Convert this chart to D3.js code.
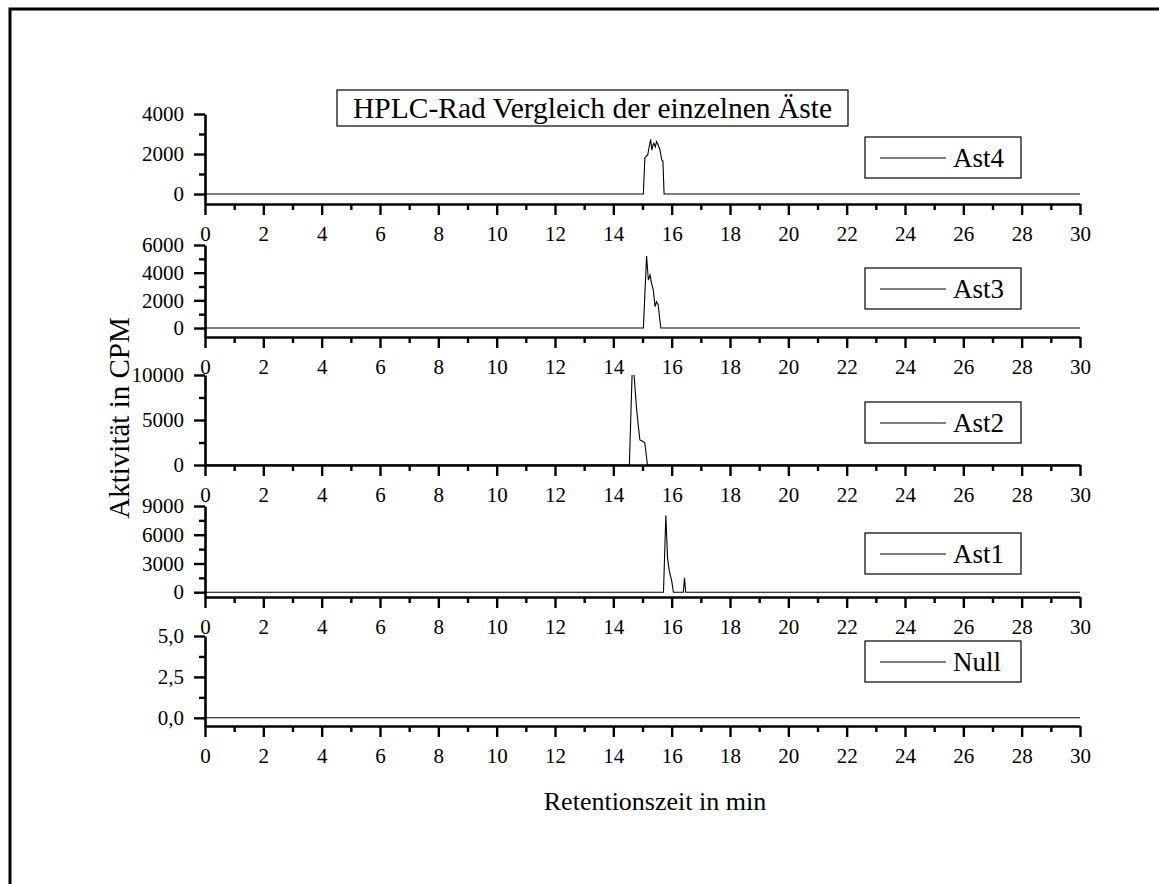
<!DOCTYPE html>
<html>
<head>
<meta charset="utf-8">
<script src="https://cdn.jsdelivr.net/npm/d3@7"></script>
<style>
  body { margin: 0; background: #fff; }
  svg { display: block; }
  text { font-family: "Liberation Serif", "Times New Roman", serif; fill: #000; }
</style>
</head>
<body>
<svg></svg>
<script>
// data
const chartTitle = "HPLC-Rad Vergleich der einzelnen Äste";
const xLabel = "Retentionszeit in min";
const yLabel = "Aktivität in CPM";
const seriesNames = ["Ast4", "Ast3", "Ast2", "Ast1", "Null"];
const xTickValues = d3.range(0, 31, 2);

// y axis per panel
const yTickValues = [[0, 2000, 4000], [0, 2000, 4000, 6000], [0, 5000, 10000], [0, 3000, 6000, 9000], [0, 2.5, 5]];
const yMinorValues = [[1000, 3000], [1000, 3000, 5000], [2500, 7500], [1500, 4500, 7500], [1.25, 3.75]];
const yDomains = [[-500, 4000], [-650, 6000], [0, 10000], [-500, 9000], [-0.5, 5]];

// retention time (min) and activity (CPM) per series
const ast4Time = [0, 15.03, 15.08, 15.14, 15.18, 15.22, 15.28, 15.32, 15.36, 15.39, 15.44, 15.48, 15.54, 15.6, 15.66, 15.7, 15.74, 30];
const ast4Value = [0, 0, 1800, 1900, 1950, 2300, 2730, 2200, 2450, 2530, 2350, 2620, 2450, 2200, 1700, 1650, 0, 0];
const ast3Time = [0, 15.03, 15.14, 15.2, 15.26, 15.31, 15.37, 15.43, 15.48, 15.54, 15.6, 15.63, 30];
const ast3Value = [0, 0, 5200, 3470, 3830, 3230, 2750, 1540, 1900, 1660, 455, 0, 0];
const ast2Time = [0, 14.55, 14.67, 14.71, 14.8, 14.86, 14.91, 14.97, 15.03, 15.08, 15.17, 30];
const ast2Value = [0, 0, 13000, 10000, 6110, 4255, 2780, 2700, 2590, 2440, 0, 0];
const ast1Time = [0, 15.72, 15.8, 15.86, 15.92, 16.0, 16.06, 16.4, 16.44, 16.48, 30];
const ast1Value = [0, 0, 8000, 3500, 2200, 1200, 0, 0, 1500, 0, 0];
const nullTime = [0, 30];
const nullValue = [0, 0];

const seriesTimes = [ast4Time, ast3Time, ast2Time, ast1Time, nullTime];
const seriesValues = [ast4Value, ast3Value, ast2Value, ast1Value, nullValue];

// layout
const W = 1159, H = 884;
const plotLeft = 205, plotRight = 1080;
const panelTop = [114, 245, 375, 506, 636];     // y of top tick
const panelAxis = [204, 337, 465, 597, 726];    // y of x axis line
const legendTop = [137, 268, 402, 533, 641];

const svg = d3.select("svg").attr("width", W).attr("height", H);

// outer frame
svg.append("rect")
    .attr("x", 10).attr("y", 9)
    .attr("width", W + 20).attr("height", H + 20)
    .attr("fill", "none").attr("stroke", "#000").attr("stroke-width", 3);

const x = d3.scaleLinear().domain([0, 30]).range([plotLeft, plotRight]);
const commaFormat = d3.formatLocale({ decimal: ",", thousands: "", grouping: [3], currency: ["", ""] }).format(".1f");

seriesNames.forEach((name, i) => {
    const y = d3.scaleLinear().domain(yDomains[i]).range([panelAxis[i], panelTop[i]]);
    const g = svg.append("g");

    // clip the data to the axis box
    svg.append("clipPath").attr("id", "clip" + i)
        .append("rect")
        .attr("x", plotLeft).attr("y", panelTop[i])
        .attr("width", plotRight - plotLeft).attr("height", panelAxis[i] - panelTop[i]);

    const pts = seriesTimes[i].map((t, k) => [t, seriesValues[i][k]]);
    g.append("path")
        .datum(pts)
        .attr("clip-path", "url(#clip" + i + ")")
        .attr("fill", "none")
        .attr("stroke", "#000")
        .attr("stroke-width", 1.1)
        .attr("d", d3.line().x(d => x(d[0])).y(d => y(d[1])));

    // x axis: major + minor
    const xAxisG = g.append("g").attr("transform", `translate(0,${panelAxis[i]})`);
    xAxisG.call(d3.axisBottom(x).tickValues(xTickValues).tickSize(11).tickSizeOuter(0).tickPadding(11).tickFormat(d3.format("d")));
    xAxisG.append("g").call(d3.axisBottom(x).tickValues(d3.range(1, 30, 2)).tickSize(6).tickSizeOuter(0).tickFormat(""))
        .select(".domain").remove();

    // y axis: major + minor
    const fmt = i === 4 ? commaFormat : d3.format("d");
    const yAxisG = g.append("g").attr("transform", `translate(${plotLeft},0)`);
    yAxisG.call(d3.axisLeft(y).tickValues(yTickValues[i]).tickSize(11).tickSizeOuter(0).tickPadding(10).tickFormat(fmt));
    yAxisG.append("g").call(d3.axisLeft(y).tickValues(yMinorValues[i]).tickSize(6).tickSizeOuter(0).tickFormat(""))
        .select(".domain").remove();

    g.selectAll(".domain").attr("stroke-width", 2.6).attr("stroke", "#000");
    g.selectAll(".tick line").attr("stroke-width", 2.4).attr("stroke", "#000");
    g.selectAll(".tick text").style("font-size", "21px").style("font-family", "'Liberation Serif', serif");

    // legend
    const lg = g.append("g").attr("transform", `translate(865,${legendTop[i]})`);
    lg.append("rect").attr("width", 156).attr("height", 41)
        .attr("fill", "#fff").attr("stroke", "#000").attr("stroke-width", 1.2);
    lg.append("line").attr("x1", 15).attr("x2", 81).attr("y1", 21).attr("y2", 21)
        .attr("stroke", "#000").attr("stroke-width", 1.1);
    lg.append("text").attr("x", 88).attr("y", 30).style("font-size", "27px").text(name);
});

// title box
const tg = svg.append("g").attr("transform", "translate(337,90)");
tg.append("rect").attr("width", 511).attr("height", 36)
    .attr("fill", "#fff").attr("stroke", "#000").attr("stroke-width", 1.2);
tg.append("text").attr("x", 255.5).attr("y", 28).attr("text-anchor", "middle")
    .style("font-size", "29.5px").text(chartTitle);

// axis titles
svg.append("text")
    .attr("x", 655).attr("y", 810)
    .attr("text-anchor", "middle").style("font-size", "26px").text(xLabel);
svg.append("text")
    .attr("transform", "translate(129,418) rotate(-90)")
    .attr("text-anchor", "middle").style("font-size", "29px").text(yLabel);
</script>
</body>
</html>
